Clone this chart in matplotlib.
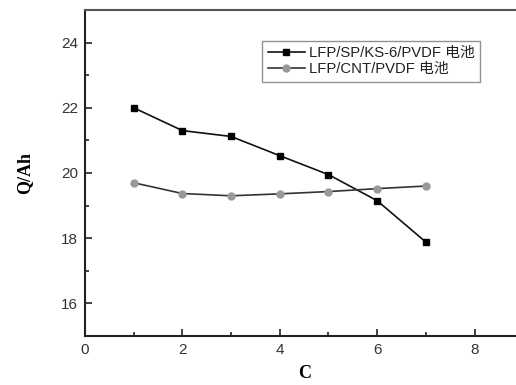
import matplotlib.pyplot as plt
from matplotlib.ticker import MultipleLocator

# discharge rate (C) and capacity (Ah)
rates = [1, 2, 3, 4, 5, 6, 7]
cap_sp_ks6 = [22.0, 21.30, 21.12, 20.53, 19.95, 19.15, 17.88]
cap_cnt = [19.70, 19.37, 19.30, 19.36, 19.43, 19.52, 19.60]
series_labels = ["LFP/SP/KS-6/PVDF 电池", "LFP/CNT/PVDF 电池"]

fig = plt.figure(figsize=(5.16, 3.85), dpi=100)
fig.patch.set_facecolor("white")
ax = fig.add_axes([0.1647, 0.1273, 0.8494, 0.8468])

ax.plot(rates, cap_sp_ks6, color="#111111", lw=1.2, marker="s", ms=4.5,
        mfc="black", mec="black", label=series_labels[0])
ax.plot(rates, cap_cnt, color="#333333", lw=1.2, marker="o", ms=5,
        mfc="#999999", mec="#999999", label=series_labels[1])

ax.set_xlim(0, 9)
ax.set_ylim(15, 25)
ax.xaxis.set_major_locator(MultipleLocator(2))
ax.xaxis.set_minor_locator(MultipleLocator(1))
ax.yaxis.set_major_locator(MultipleLocator(2))
ax.yaxis.set_minor_locator(MultipleLocator(1))
ax.set_yticks([16, 18, 20, 22, 24])

ax.tick_params(which="both", direction="in", color="#222222", labelsize=11,
               labelcolor="#333333", pad=5)
ax.tick_params(which="major", length=5, width=1.2)
ax.tick_params(which="minor", length=3, width=1.2)
for lab in ax.get_xticklabels() + ax.get_yticklabels():
    lab.set_family("Liberation Sans")

for side in ["left", "bottom"]:
    ax.spines[side].set_linewidth(1.5)
    ax.spines[side].set_color("#222222")
ax.spines["top"].set_linewidth(1.5)
ax.spines["top"].set_color("#555555")

ax.set_xlabel("C", family="Liberation Serif", fontweight="bold", fontsize=13,
              labelpad=6)
ax.set_ylabel("Q/Ah", family="Liberation Serif", fontweight="bold", fontsize=13,
              labelpad=20)

leg = ax.legend(loc="upper left", bbox_to_anchor=(0.405, 0.905),
                prop={"family": ["Liberation Sans", "Noto Sans CJK SC"], "size": 10.7},
                frameon=True, fancybox=False, borderpad=0.35, handlelength=2.5,
                handletextpad=0.3, labelspacing=0.15, borderaxespad=0)
leg.get_frame().set_edgecolor("#777777")
leg.get_frame().set_linewidth(1.0)
for t in leg.get_texts():
    t.set_color("#222222")

fig.savefig("out.png", dpi=100)
